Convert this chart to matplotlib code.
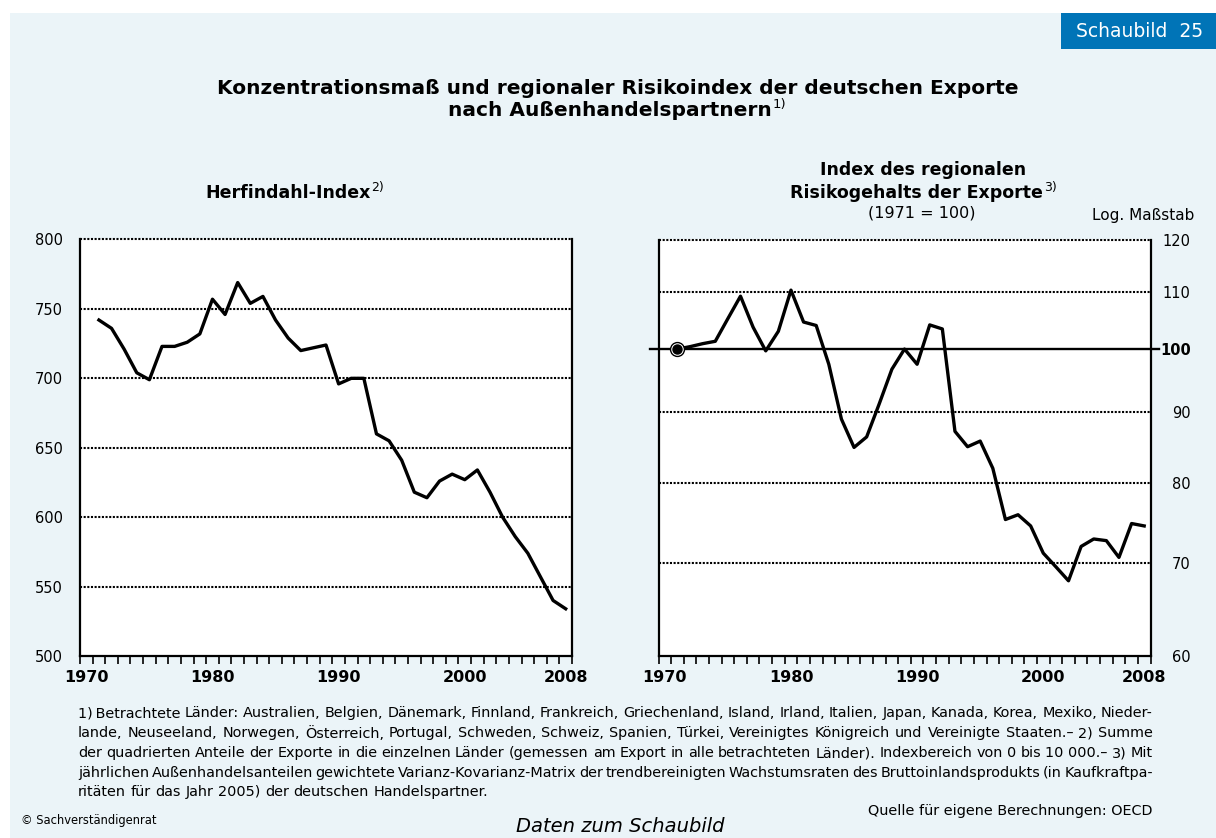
import matplotlib
matplotlib.use('Agg')
import matplotlib.pyplot as plt
from matplotlib.patches import Rectangle
from matplotlib.ticker import FixedLocator, NullLocator, NullFormatter
import matplotlib.transforms as mtransforms

# ---------------- data ----------------
years = list(range(1971, 2009))
herfindahl = [742, 736, 721, 704, 699, 723, 723, 726, 732, 757,
              746, 769, 754, 759, 742, 729, 720, 722, 724, 696,
              700, 700, 660, 655, 641, 618, 614, 626, 631, 627,
              634, 618, 600, 586, 574, 557, 540, 534]
risk_index = [100.0, 100.4, 100.9, 101.3, 105.2, 109.2, 103.7, 99.7, 103.0, 110.3,
              104.6, 104.0, 97.5, 89.0, 84.9, 86.4, 91.3, 96.7, 100.0, 97.5,
              104.1, 103.4, 87.2, 85.0, 85.8, 82.0, 75.3, 75.9, 74.5, 71.2,
              69.6, 68.0, 72.0, 72.9, 72.7, 70.7, 74.8, 74.5]
xtick_years = [1970, 1980, 1990, 2000, 2008]
left_yticks = [500, 550, 600, 650, 700, 750, 800]
right_yticks = [60, 70, 80, 90, 100, 110, 120]

title_line1 = "Konzentrationsmaß und regionaler Risikoindex der deutschen Exporte"
title_line2 = "nach Außenhandelspartnern"
footnote_lines = [
    "1)\u2009Betrachtete Länder: Australien, Belgien, Dänemark, Finnland, Frankreich, Griechenland, Island, Irland, Italien, Japan, Kanada, Korea, Mexiko, Nieder-",
    "lande, Neuseeland, Norwegen, Österreich, Portugal, Schweden, Schweiz, Spanien, Türkei, Vereinigtes Königreich und Vereinigte Staaten.– 2) Summe",
    "der quadrierten Anteile der Exporte in die einzelnen Länder (gemessen am Export in alle betrachteten Länder). Indexbereich von 0 bis 10\u00a0000.– 3) Mit",
    "jährlichen Außenhandelsanteilen gewichtete Varianz-Kovarianz-Matrix der trendbereinigten Wachstumsraten des Bruttoinlandsprodukts (in Kaufkraftpa-",
    "ritäten für das Jahr 2005) der deutschen Handelspartner.",
]

# ---------------- figure ----------------
W, H = 1216, 838
plt.rcParams['font.family'] = ['DejaVu Sans']
fig = plt.figure(figsize=(W / 100, H / 100), dpi=100)
fig.patch.set_facecolor('white')

def fx(px):
    return px / W

def fy(py):
    return 1 - py / H

BG = '#EBF4F8'
BLUE = '#0074B7'
fig.add_artist(Rectangle((fx(10), 0), 1 - fx(10), fy(13), transform=fig.transFigure,
                         facecolor=BG, edgecolor='none', zorder=0))
fig.add_artist(Rectangle((fx(1061), fy(49.3)), 1 - fx(1061), (49.3 - 12.7) / H,
                         transform=fig.transFigure, facecolor=BLUE, edgecolor='none', zorder=1))
fig.text(fx(1140), fy(31.5), 'Schaubild  25', color='white', fontsize=13.5,
         ha='center', va='center', zorder=2)

renderer = fig.canvas.get_renderer()

def width_of(t):
    return t.get_window_extent(renderer).width

def sup_text(xc, yc, main, sup, size, ssize, weight='bold'):
    t = fig.text(0, fy(yc), main, fontsize=size, fontweight=weight, ha='left', va='center')
    s = fig.text(0, fy(yc - size * 0.42), sup, fontsize=ssize, ha='left', va='center')
    w = width_of(t)
    ws = width_of(s)
    x0 = xc - (w + 1 + ws) / 2
    t.set_x(fx(x0))
    s.set_x(fx(x0 + w + 1))

# titles
fig.text(fx(617.5), fy(88), title_line1, fontsize=14.5, fontweight='bold', ha='center', va='center')
sup_text(617.5, 111, title_line2, '1)', 14.5, 9.5)
sup_text(294.5, 193, 'Herfindahl-Index', '2)', 12.5, 9)
fig.text(fx(923), fy(170), 'Index des regionalen', fontsize=12.5, fontweight='bold', ha='center', va='center')
sup_text(923.5, 193, 'Risikogehalts der Exporte', '3)', 12.5, 9)
fig.text(fx(921.5), fy(213), '(1971 = 100)', fontsize=11.5, ha='center', va='center')
fig.text(fx(1194), fy(215), 'Log. Maßstab', fontsize=11, ha='right', va='center')

# ---------------- axes ----------------
top_px, bot_px = 239.5, 656
axL = fig.add_axes([fx(80), fy(bot_px), (572 - 80) / W, (bot_px - top_px) / H])
axR = fig.add_axes([fx(658.5), fy(bot_px), 492 / W, (bot_px - top_px) / H])

DOT = (0, (1.0, 0.75))

def style(ax):
    ax.set_facecolor('white')
    ax.set_xlim(1970, 2009)
    for s in ['left', 'right', 'bottom']:
        ax.spines[s].set_linewidth(1.6)
        ax.spines[s].set_color('black')
    ax.spines['top'].set_visible(False)
    ax.xaxis.set_major_locator(FixedLocator([y + 0.5 for y in xtick_years]))
    ax.xaxis.set_minor_locator(FixedLocator(range(1970, 2010)))
    ax.set_xticklabels([str(y) for y in xtick_years], fontweight='bold', fontsize=11.5)
    ax.tick_params(axis='x', which='major', length=0, pad=10)
    ax.tick_params(axis='x', which='minor', length=5.5, width=1.2, direction='out', color='black')

style(axL)
style(axR)

xs = [y + 0.5 for y in years]

# left panel
axL.set_ylim(500, 800)
axL.yaxis.set_major_locator(FixedLocator(left_yticks))
axL.set_yticklabels([str(v) for v in left_yticks], fontsize=10.5)
axL.tick_params(axis='y', length=0, pad=12.5)
for v in left_yticks[1:]:
    axL.axhline(v, color='black', lw=1.5, linestyle=DOT, zorder=1, clip_on=False)
axL.plot(xs, herfindahl, color='black', lw=2.4, zorder=3)

# right panel
axR.set_yscale('log')
axR.set_ylim(60, 120)
axR.yaxis.set_major_locator(FixedLocator(right_yticks))
axR.yaxis.set_minor_locator(NullLocator())
axR.yaxis.set_minor_formatter(NullFormatter())
axR.set_yticklabels([str(v) for v in right_yticks], fontsize=10.5)
axR.tick_params(axis='y', left=False, right=False, labelleft=False, labelright=True, length=0, pad=29)
for lab in axR.get_yticklabels():
    lab.set_horizontalalignment('right')
    if lab.get_text() == '100':
        lab.set_fontweight('bold')
for v in right_yticks[1:]:
    if v == 100:
        continue
    axR.axhline(v, color='black', lw=1.5, linestyle=DOT, zorder=1, clip_on=False)
blend = mtransforms.blended_transform_factory(axR.transAxes, axR.transData)
axR.plot([-0.017, 1.017], [100, 100], transform=blend, color='black', lw=1.7, clip_on=False, zorder=2)
axR.plot(xs, risk_index, color='black', lw=2.4, zorder=3)
axR.plot(xs[0], risk_index[0], 'o', ms=10, mfc='white', mec='black', mew=1.0, zorder=5, clip_on=False)
axR.plot(xs[0], risk_index[0], 'o', ms=6.5, color='black', zorder=6, clip_on=False)

# ---------------- footnotes (justified) ----------------
FN_LEFT, FN_RIGHT = 78, 1153
fn_y = [713.3, 733.3, 753.3, 772.7, 791.7]

def word_widths(words, fs):
    out = []
    for w in words:
        t = fig.text(0, 0, w, fontsize=fs)
        out.append(width_of(t))
        t.remove()
    return out

def space_width(fs):
    a = fig.text(0, 0, 'a a', fontsize=fs)
    b = fig.text(0, 0, 'aa', fontsize=fs)
    s = width_of(a) - width_of(b)
    a.remove()
    b.remove()
    return s

base_fs = 10.0
sp10 = space_width(base_fs)
nat = []
for line in footnote_lines[:4]:
    words = line.split(' ')
    nat.append(sum(word_widths(words, base_fs)) + sp10 * (len(words) - 1))
fn_fs = base_fs * (FN_RIGHT - FN_LEFT) * 1.02 / max(nat)
fn_sp = space_width(fn_fs)

for i, line in enumerate(footnote_lines):
    words = line.split(' ')
    texts = [fig.text(0, fy(fn_y[i]), w, fontsize=fn_fs, ha='left', va='center') for w in words]
    ws = [width_of(t) for t in texts]
    if i < 4:
        gap = ((FN_RIGHT - FN_LEFT) - sum(ws)) / (len(words) - 1)
    else:
        gap = fn_sp
    x = FN_LEFT
    for t, w in zip(texts, ws):
        t.set_x(fx(x))
        x += w + gap

fig.text(fx(FN_RIGHT), fy(810.7), 'Quelle für eigene Berechnungen: OECD', fontsize=fn_fs,
         ha='right', va='center')
fig.text(fx(20.7), fy(820), '© Sachverständigenrat', fontsize=8.3, ha='left', va='center')
fig.text(fx(620), fy(826), 'Daten zum Schaubild', fontsize=14, style='italic', ha='center', va='center')

fig.savefig('out.png', dpi=100, facecolor=fig.get_facecolor())
